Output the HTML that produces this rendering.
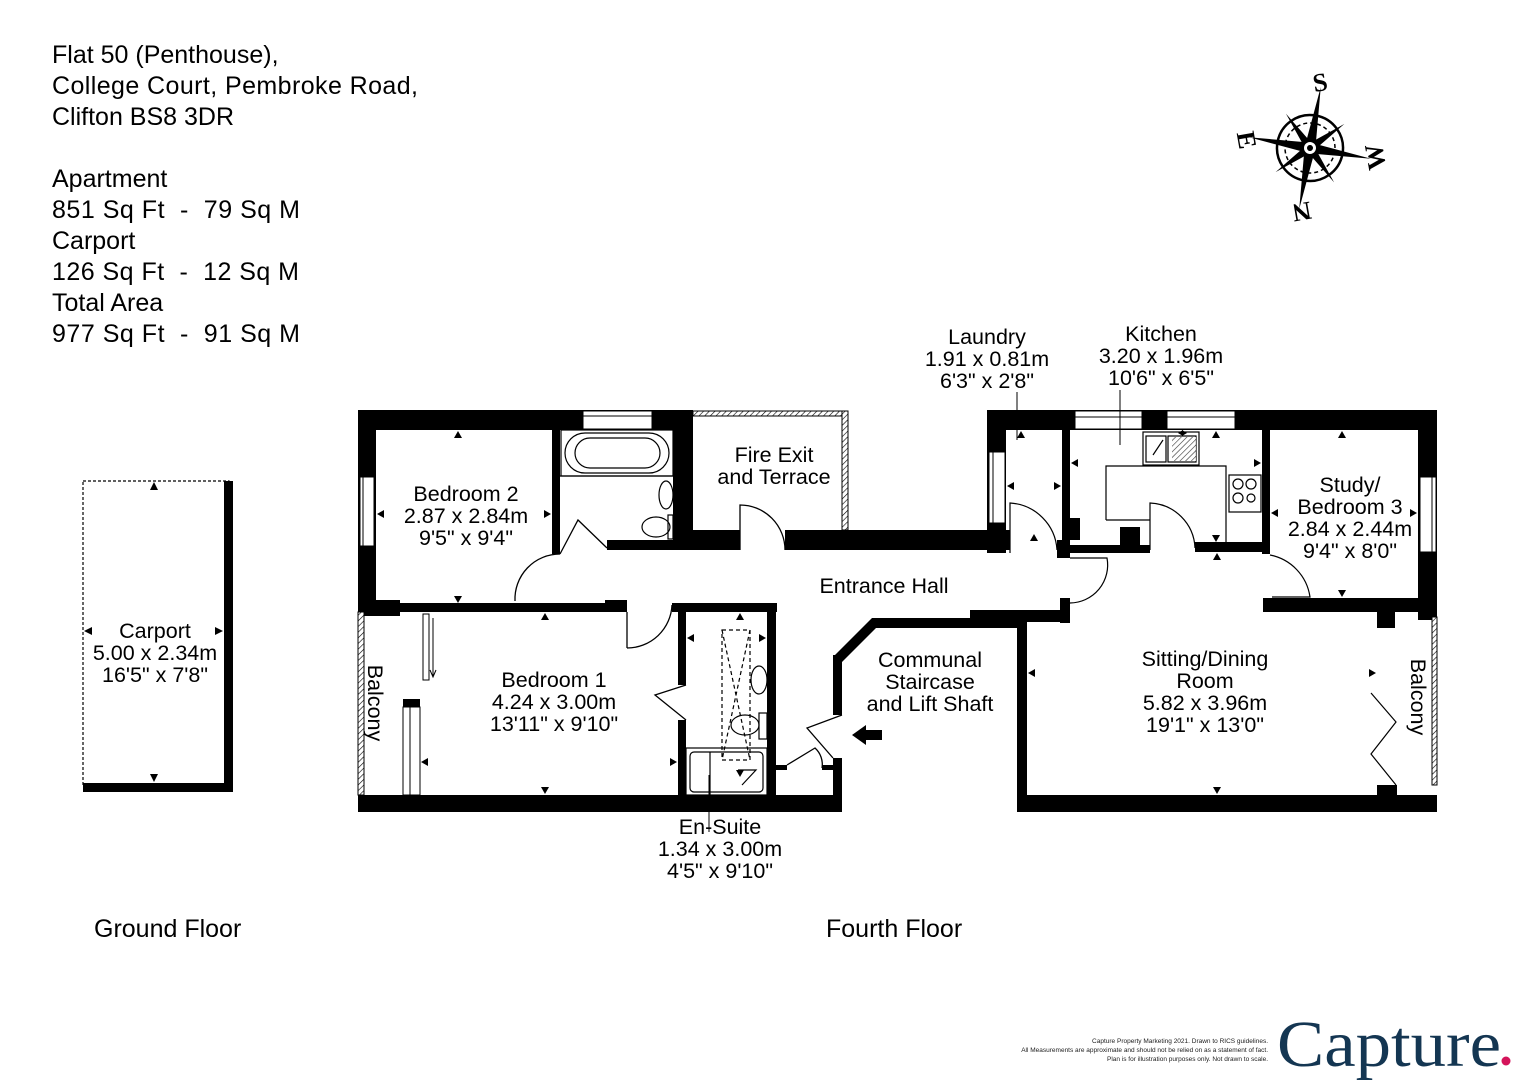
<!DOCTYPE html>
<html><head><meta charset="utf-8"><style>
html,body{margin:0;padding:0;background:#fff;}
svg{display:block;font-family:"Liberation Sans",Arial,sans-serif;}
</style></head><body>
<svg width="1528" height="1080" viewBox="0 0 1528 1080" xmlns="http://www.w3.org/2000/svg">
<defs>
<pattern id="hatch" width="4" height="4" patternUnits="userSpaceOnUse" patternTransform="rotate(45)">
<rect width="4" height="4" fill="#fff"/><line x1="0" y1="0" x2="0" y2="4" stroke="#000" stroke-width="1.2"/>
</pattern>
</defs>
<rect width="1528" height="1080" fill="#fff"/>

<g font-size="25" fill="#000">
<text x="52" y="63">Flat 50 (Penthouse),</text>
<text x="52" y="94" textLength="366">College Court, Pembroke Road,</text>
<text x="52" y="125">Clifton BS8 3DR</text>
<text x="52" y="187">Apartment</text>
<text x="52" y="218" xml:space="preserve" textLength="248">851 Sq Ft  -  79 Sq M</text>
<text x="52" y="249">Carport</text>
<text x="52" y="280" xml:space="preserve" textLength="247">126 Sq Ft  -  12 Sq M</text>
<text x="52" y="311">Total Area</text>
<text x="52" y="342" xml:space="preserve" textLength="248">977 Sq Ft  -  91 Sq M</text>
</g>

<g transform="translate(1310,148) rotate(190)">
<circle r="33" fill="none" stroke="#000" stroke-width="2.5"/>
<circle r="25" fill="none" stroke="#000" stroke-width="1.5" stroke-dasharray="4 3"/>
<g fill="#000">
<polygon points="0,-62 5,-5 0,0 -5,-5"/>
<polygon points="0,62 5,5 0,0 -5,5"/>
<polygon points="-62,0 -5,-5 0,0 -5,5"/>
<polygon points="62,0 5,-5 0,0 5,5"/>
<g transform="rotate(45)">
<polygon points="0,-42 4,-4 0,0 -4,-4"/>
<polygon points="0,42 4,4 0,0 -4,4"/>
<polygon points="-42,0 -4,-4 0,0 -4,4"/>
<polygon points="42,0 4,-4 0,0 4,4"/>
</g>
</g>
<circle r="7" fill="#fff" stroke="#000" stroke-width="2"/>
<circle r="3" fill="#000"/>
</g>
<g font-family="Liberation Serif,serif" font-size="26" font-weight="bold" fill="#000" text-anchor="middle">
<text x="1320" y="91" transform="rotate(-10 1320 82)">S</text>
<text x="1302" y="221" transform="rotate(170 1302 212)">N</text>
<text x="1247" y="149" transform="rotate(80 1247 140)">E</text>
<text x="1375" y="166" transform="rotate(-100 1375 157)">W</text>
</g>

<rect x="83" y="481" width="146" height="306" fill="none" stroke="#000" stroke-width="1.2" stroke-dasharray="3 2"/>
<rect x="224" y="481" width="9" height="311" fill="#000"/>
<rect x="83" y="783" width="150" height="9" fill="#000"/>
<g fill="#000">
<polygon points="154,482 150,490 158,490"/><polygon points="154,782 150,774 158,774"/>
<polygon points="84,631 92,627 92,635"/><polygon points="223,631 215,627 215,635"/>
</g>
<g font-size="21.5" text-anchor="middle" fill="#000">
<text x="155" y="638">Carport</text>
<text x="155" y="660">5.00 x 2.34m</text>
<text x="155" y="682">16'5" x 7'8"</text>
</g>

<g fill="#000">
<rect x="358" y="410" width="335" height="20"/>
<rect x="358" y="410" width="18" height="200"/>
<rect x="358" y="600" width="42" height="16"/>
<rect x="358" y="603" width="269" height="9"/>
<rect x="605" y="600" width="22" height="12"/>
<rect x="552" y="430" width="8" height="124"/>
<rect x="673" y="410" width="20" height="140"/>
<rect x="607" y="540" width="133" height="10"/>
<rect x="693" y="530" width="47" height="20"/>
<rect x="785" y="530" width="222" height="20"/>
<rect x="672" y="603" width="105" height="9"/>
<rect x="678" y="603" width="8" height="82"/>
<rect x="678" y="720" width="8" height="80"/>
<rect x="767" y="603" width="9" height="197"/>
<rect x="358" y="795" width="484" height="17"/>
<rect x="403" y="699" width="17" height="8"/>
<rect x="775" y="765" width="12" height="5"/>
<rect x="822" y="765" width="11" height="5"/>
<rect x="833" y="758" width="9" height="54"/>
<rect x="833" y="655" width="9" height="60"/>
<polygon points="833,657 872,618 880,618 880,628 876,628 842,662 833,662"/>
<rect x="872" y="618" width="150" height="10"/>
<rect x="970" y="610" width="100" height="12"/>
</g>
<rect x="583" y="411" width="69" height="18" fill="#fff" stroke="#000" stroke-width="1"/>
<line x1="583" y1="416" x2="652" y2="416" stroke="#000"/>
<rect x="360" y="477" width="14" height="69" fill="#fff" stroke="#000" stroke-width="1"/>
<line x1="363" y1="477" x2="363" y2="546" stroke="#000"/>
<rect x="358" y="612" width="6" height="183" fill="url(#hatch)" stroke="#000" stroke-width="1"/>
<rect x="403" y="707" width="17" height="88" fill="#fff" stroke="#000" stroke-width="1"/>
<line x1="410" y1="707" x2="410" y2="795" stroke="#000"/>
<rect x="423" y="614" width="6" height="66" fill="#fff" stroke="#000" stroke-width="1"/>
<path d="M433 618 V676 M430 670 L433 677 L436 670" fill="none" stroke="#000"/>
<rect x="693" y="411" width="155" height="5" fill="url(#hatch)" stroke="#000" stroke-width="1"/>
<rect x="842" y="411" width="6" height="119" fill="url(#hatch)" stroke="#000" stroke-width="1"/>

<g fill="none" stroke="#000" stroke-width="1.3">
<path d="M740 550 V505 A45 45 0 0 1 785 550"/>
<path d="M560 554 L578 520 L607 548"/>
<path d="M515 601 A45 45 0 0 1 560 554"/>
<path d="M627 648 V612 M627 648 A45 45 0 0 0 672 605"/>
<path d="M686 685 L655 695 L686 720"/>
<path d="M842 715 L807 728 L833 758 M787 765 L815 748 A22 22 0 0 1 822 768"/>
</g>
<g fill="none" stroke="#000" stroke-width="1.2">
<rect x="561" y="430" width="112" height="46" fill="#fff"/>
<rect x="565" y="433" width="104" height="40" rx="20"/>
<rect x="575" y="438" width="85" height="30" rx="15"/>
<line x1="560" y1="476" x2="673" y2="476"/>
<ellipse cx="666" cy="495" rx="7" ry="14"/>
<ellipse cx="656" cy="527" rx="14" ry="10"/>
<rect x="668" y="515" width="5" height="24"/>
<rect x="722" y="630" width="28" height="130" stroke-dasharray="4 3"/>
<path d="M722 630 L750 760 M750 630 L722 760" stroke-dasharray="4 3"/>
<ellipse cx="759" cy="680" rx="8" ry="14"/>
<ellipse cx="745" cy="725" rx="14" ry="10"/>
<rect x="759" y="713" width="8" height="26"/>
<rect x="686" y="748" width="81" height="47"/>
<rect x="690" y="752" width="73" height="40" rx="4"/>
<path d="M710 752 V800 M738 770 H756 L742 785"/>
</g>

<g fill="#000">
<rect x="987" y="410" width="450" height="20"/>
<rect x="987" y="410" width="19" height="143"/>
<rect x="980" y="530" width="30" height="20"/>
<rect x="1062" y="430" width="8" height="110"/>
<rect x="1062" y="518" width="18" height="22"/>
<rect x="1057" y="545" width="93" height="8"/>
<rect x="1120" y="527" width="20" height="20"/>
<rect x="1195" y="542" width="73" height="10"/>
<rect x="1262" y="430" width="8" height="124"/>
<rect x="1418" y="410" width="19" height="210"/>
<rect x="1263" y="598" width="174" height="14"/>
<rect x="1377" y="598" width="18" height="30"/>
<rect x="1377" y="785" width="20" height="15"/>
<rect x="1057" y="540" width="13" height="18"/>
<rect x="1060" y="598" width="10" height="25"/>
<rect x="1017" y="610" width="10" height="202"/>
<rect x="1017" y="795" width="420" height="17"/>
</g>
<rect x="1075" y="411" width="67" height="18" fill="#fff" stroke="#000"/>
<line x1="1075" y1="417" x2="1142" y2="417" stroke="#000"/>
<rect x="1167" y="411" width="68" height="18" fill="#fff" stroke="#000"/>
<line x1="1167" y1="417" x2="1235" y2="417" stroke="#000"/>
<rect x="989" y="452" width="16" height="71" fill="#fff" stroke="#000"/>
<line x1="993" y1="452" x2="993" y2="523" stroke="#000"/>
<rect x="1420" y="477" width="16" height="75" fill="#fff" stroke="#000"/>
<line x1="1432" y1="477" x2="1432" y2="552" stroke="#000"/>
<rect x="1432" y="617" width="5" height="168" fill="url(#hatch)" stroke="#000"/>
<g fill="none" stroke="#000" stroke-width="1.2">
<path d="M1106 520 V466 H1226 V542 M1106 520 H1150"/>
<rect x="1143" y="432" width="56" height="33" fill="#fff"/>
<rect x="1146" y="436" width="20" height="26"/>
<rect x="1168" y="436" width="28" height="26"/>
<path d="M1153 455 L1163 440"/>
<rect x="1229" y="475" width="32" height="37"/>
<circle cx="1238" cy="484" r="5"/><circle cx="1251" cy="484" r="5"/>
<circle cx="1238" cy="498" r="5"/><circle cx="1251" cy="498" r="4"/>
<path d="M1010 553 V503 A50 50 0 0 1 1057 550"/>
<path d="M1070 603 A38 38 0 0 0 1107 558 H1070"/>
<path d="M1150 550 V503 A47 47 0 0 1 1195 548"/>
<path d="M1270 555 A50 50 0 0 1 1310 597 H1272"/>
<path d="M1371 693 L1396 722 L1371 754 L1396 785"/>
</g>
<g fill="#000">
<path d="M1178 433 l5 -3 v6z"/><path d="M1187 433 l-5 -3 v6z"/>
<rect x="1172" y="437" width="24" height="24" fill="url(#hatch)" opacity=".8"/>
<polygon points="458,431 454,438 462,438"/><polygon points="458,603 454,596 462,596"/>
<polygon points="377,514 384,510 384,518"/><polygon points="551,514 544,510 544,518"/>
<polygon points="545,613 541,620 549,620"/><polygon points="545,794 541,787 549,787"/>
<polygon points="421,762 428,758 428,766"/><polygon points="677,762 670,758 670,766"/>
<polygon points="740,613 736,620 744,620"/><polygon points="687,638 694,634 694,642"/>
<polygon points="766,638 759,634 759,642"/><polygon points="740,777 736,770 744,770"/>
<polygon points="1021,431 1017,438 1025,438"/><polygon points="1007,486 1014,482 1014,490"/>
<polygon points="1061,486 1054,482 1054,490"/><polygon points="1034,534 1030,541 1038,541"/>
<polygon points="1216,431 1212,438 1220,438"/><polygon points="1071,463 1078,459 1078,467"/>
<polygon points="1261,463 1254,459 1254,467"/><polygon points="1216,542 1212,535 1220,535"/>
<polygon points="1342,431 1338,438 1346,438"/><polygon points="1271,513 1278,509 1278,517"/>
<polygon points="1417,513 1410,509 1410,517"/><polygon points="1342,597 1338,590 1346,590"/>
<polygon points="1217,553 1213,560 1221,560"/><polygon points="1028,673 1035,669 1035,677"/>
<polygon points="1217,794 1213,787 1221,787"/><polygon points="1376,673 1369,669 1369,677"/>
<polygon points="882,730 866,730 866,725 852,735 866,745 866,740 882,740"/>
</g>
<line x1="1017" y1="392" x2="1017" y2="440" stroke="#000"/>
<line x1="1120" y1="390" x2="1120" y2="445" stroke="#000"/>
<line x1="709" y1="775" x2="709" y2="832" stroke="#000"/>

<g font-size="21.5" text-anchor="middle" fill="#000">
<text x="466" y="501">Bedroom 2</text><text x="466" y="523">2.87 x 2.84m</text><text x="466" y="545">9'5" x 9'4"</text>
<text x="774" y="462">Fire Exit</text><text x="774" y="484">and Terrace</text>
<text x="554" y="687">Bedroom 1</text><text x="554" y="709">4.24 x 3.00m</text><text x="554" y="731">13'11" x 9'10"</text>
<text x="884" y="593">Entrance Hall</text>
<text x="930" y="667">Communal</text><text x="930" y="689">Staircase</text><text x="930" y="711">and Lift Shaft</text>
<text x="720" y="834">En-Suite</text><text x="720" y="856">1.34 x 3.00m</text><text x="720" y="878">4'5" x 9'10"</text>
<text x="987" y="344">Laundry</text><text x="987" y="366">1.91 x 0.81m</text><text x="987" y="388">6'3" x 2'8"</text>
<text x="1161" y="341">Kitchen</text><text x="1161" y="363">3.20 x 1.96m</text><text x="1161" y="385">10'6" x 6'5"</text>
<text x="1350" y="492">Study/</text><text x="1350" y="514">Bedroom 3</text><text x="1350" y="536">2.84 x 2.44m</text><text x="1350" y="558">9'4" x 8'0"</text>
<text x="1205" y="666">Sitting/Dining</text><text x="1205" y="688">Room</text><text x="1205" y="710">5.82 x 3.96m</text><text x="1205" y="732">19'1" x 13'0"</text>
<text x="375" y="703" transform="rotate(90 375 703)" dy="7">Balcony</text>
<text x="1418" y="697" transform="rotate(90 1418 697)" dy="7">Balcony</text>
</g>
<g font-size="25" fill="#000">
<text x="94" y="937">Ground Floor</text>
<text x="826" y="937">Fourth Floor</text>
</g>

<g font-size="6.5" fill="#222" text-anchor="end">
<text x="1268" y="1043">Capture Property Marketing 2021. Drawn to RICS guidelines.</text>
<text x="1268" y="1052">All Measurements are approximate and should not be relied on as a statement of fact.</text>
<text x="1268" y="1061">Plan is for illustration purposes only. Not drawn to scale.</text>
</g>
<text x="1277" y="1066" font-family="Liberation Serif,serif" font-size="66" fill="#143652" textLength="224" lengthAdjust="spacingAndGlyphs">Capture</text>
<circle cx="1506" cy="1061" r="4.5" fill="#d4145a"/>
</svg>
</body></html>
